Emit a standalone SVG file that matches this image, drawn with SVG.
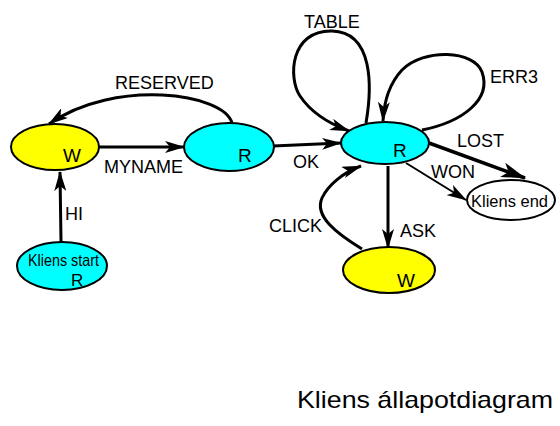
<svg xmlns="http://www.w3.org/2000/svg" width="560" height="426" viewBox="0 0 560 426">
<style>
.node{stroke:#000;stroke-width:2}
.cy{fill:#00ffff}
.ye{fill:#ffff00}
.wh{fill:#ffffff}
.t{font-family:"Liberation Sans",Arial,sans-serif;fill:#000}
.nl{font-size:19px}
.lb{font-size:18px}
.e{fill:none;stroke:#000;stroke-width:3}
</style>
<defs>
<marker id="ah" viewBox="0 0 20 12" refX="19" refY="6" markerWidth="20" markerHeight="12" markerUnits="userSpaceOnUse" orient="auto">
<path d="M0,0 L20,6 L0,12 L5,6 Z" fill="#000"/>
</marker>
<marker id="ahb" viewBox="0 0 20 12" refX="19" refY="6" markerWidth="26" markerHeight="15" markerUnits="userSpaceOnUse" orient="auto">
<path d="M0,0 L20,6 L0,12 L5,6 Z" fill="#000"/>
</marker>
</defs>
<rect width="560" height="426" fill="#ffffff"/>
<g id="connectors">
<path class="e" d="M61,242 L60,172" marker-end="url(#ah)"/>
<path class="e" d="M99,147 L184,147" marker-end="url(#ah)"/>
<path class="e" d="M232,123 C224,93 115,78 49,124" marker-end="url(#ah)"/>
<path class="e" d="M273,146 L341,143" marker-end="url(#ah)"/>
<path class="e" d="M366,123 C372,88 374,32 332,31 C290,30 288,78 300,96 C312,114 330,124 349,131" marker-end="url(#ah)"/>
<path class="e" d="M422,130 C462,122 492,100 482,72 C474,50 424,48 402,70 C389,84 384,100 383,121" marker-end="url(#ah)"/>
<path class="e" style="stroke-width:3.5" d="M429,143 L525,178" marker-end="url(#ahb)"/>
<path class="e" style="stroke-width:2" d="M406,163 L466,200" marker-end="url(#ah)"/>
<path class="e" d="M388,166 L388,248" marker-end="url(#ah)"/>
<path class="e" d="M362,249 C336,233 314,216 322,198 C328,185 344,172 361,166" marker-end="url(#ah)"/>
<text class="t lb" x="65" y="220">HI</text>
<text class="t lb" x="104" y="173">MYNAME</text>
<text class="t lb" x="115" y="89">RESERVED</text>
<text class="t lb" x="293" y="168">OK</text>
<text class="t lb" x="304" y="28">TABLE</text>
<text class="t lb" x="490" y="83">ERR3</text>
<text class="t lb" x="457" y="147">LOST</text>
<text class="t lb" x="431" y="178">WON</text>
<text class="t lb" x="400" y="237">ASK</text>
<text class="t lb" x="269" y="232">CLICK</text>
</g>
<g id="w1">
<ellipse class="node ye" cx="55" cy="147" rx="44" ry="23"/>
<text class="t nl" x="63" y="162">W</text>
</g>
<g id="r1">
<ellipse class="node cy" cx="229" cy="147" rx="45" ry="24"/>
<text class="t nl" x="238" y="162">R</text>
</g>
<g id="start">
<ellipse class="node cy" cx="62" cy="266" rx="45" ry="24"/>
<text class="t" style="font-size:16.5px" x="28" y="266" textLength="71" lengthAdjust="spacingAndGlyphs">Kliens start</text>
<text class="t" style="font-size:17px" x="71" y="286">R</text>
</g>
<g id="r2">
<ellipse class="node cy" cx="385" cy="143" rx="44" ry="21"/>
<text class="t nl" x="393" y="157">R</text>
</g>
<g id="w2">
<ellipse class="node ye" cx="389" cy="270" rx="46" ry="23"/>
<text class="t nl" x="397" y="287">W</text>
</g>
<g id="end">
<ellipse class="node wh" cx="511" cy="200" rx="44" ry="20"/>
<text class="t" style="font-size:17px" x="471" y="207" textLength="77" lengthAdjust="spacingAndGlyphs">Kliens end</text>
</g>
<text class="t" style="font-size:24px" x="297" y="408" textLength="256" lengthAdjust="spacingAndGlyphs">Kliens állapotdiagram</text>
</svg>
